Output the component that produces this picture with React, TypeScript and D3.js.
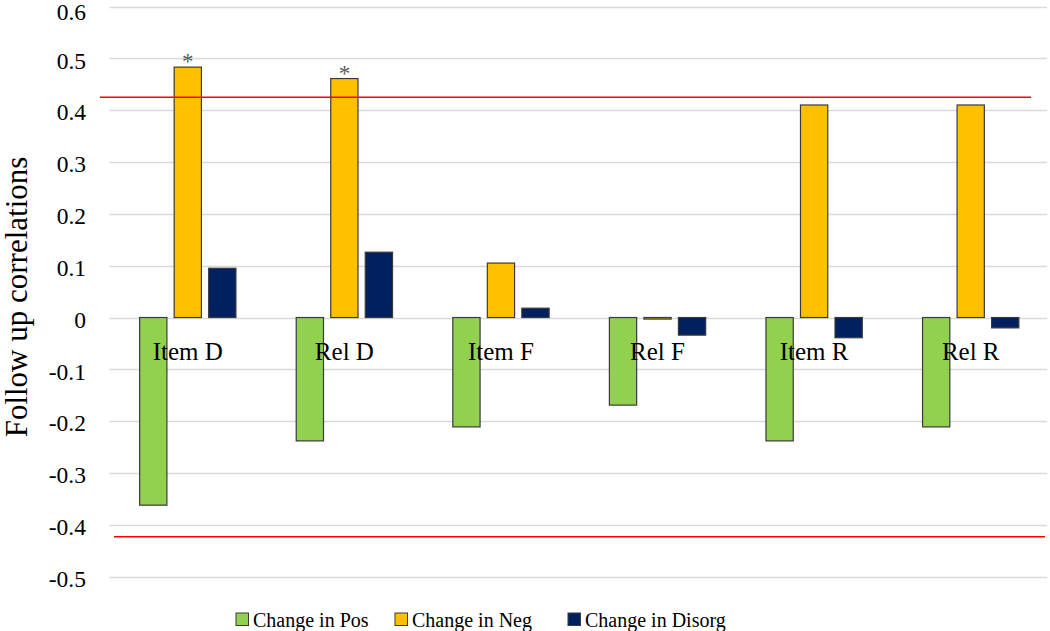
import React from "react";
import * as d3 from "d3";

const categories = ["Item D", "Rel D", "Item F", "Rel F", "Item R", "Rel R"];
const seriesNames = ["Change in Pos", "Change in Neg", "Change in Disorg"];
const changeInPos = [-0.362, -0.238, -0.211, -0.169, -0.238, -0.211];
const changeInNeg = [0.483, 0.461, 0.105, -0.003, 0.41, 0.41];
const changeInDisorg = [0.095, 0.126, 0.018, -0.034, -0.039, -0.02];
const significant = [true, true, false, false, false, false];
const yTicks = [0.6, 0.5, 0.4, 0.3, 0.2, 0.1, 0, -0.1, -0.2, -0.3, -0.4, -0.5];
const thresholdUpper = 0.425;
const thresholdLower = -0.423;
const colors = ["#92D050", "#FFC000", "#002060"];

const W = 1050;
const H = 631;
const FONT = "'Liberation Serif', 'Times New Roman', serif";

export default function App() {
  const seriesValues = [changeInPos, changeInNeg, changeInDisorg];
  const plotLeft = 109.5;
  const plotRight = 1049;
  const x0 = d3.scaleBand<string>().domain(categories).range([plotLeft, plotRight]).paddingInner(0).paddingOuter(0);
  const groupW = 96.3;
  const x1 = d3
    .scaleBand<string>()
    .domain(seriesNames)
    .range([-groupW / 2, groupW / 2])
    .paddingInner(0.21)
    .paddingOuter(0);
  const y = d3.scaleLinear().domain([-0.5, 0.6]).range([576.7, 6.5]);
  const fmt = (v: number) => (v === 0 ? "0" : v.toFixed(1));

  return (
    <svg
      width={W}
      height={H}
      style={{ position: "absolute", left: 0, top: 0, background: "#fff", fontFamily: FONT }}
    >
      <rect x={0} y={0} width={W} height={H} fill="#fff" />
      {/* gridlines */}
      {yTicks.map((t) => (
        <line
          key={"g" + t}
          x1={plotLeft}
          x2={1047}
          y1={Math.round(y(t)) + 0.5}
          y2={Math.round(y(t)) + 0.5}
          stroke="#d9d9d9"
          strokeWidth={1.3}
        />
      ))}
      {/* tick labels */}
      {yTicks.map((t) => (
        <text
          key={"t" + t}
          x={86}
          y={Math.max(y(t) + 2, 12)}
          dy="0.35em"
          textAnchor="end"
          fontSize={23.5}
          fontFamily={FONT}
          fill="#000"
        >
          {fmt(t)}
        </text>
      ))}
      {/* bars */}
      {categories.map((c, ci) => {
        const cx = (x0(c) as number) + x0.bandwidth() / 2;
        return (
          <g key={c}>
            {seriesNames.map((s, si) => {
              const v = seriesValues[si][ci];
              const bx = cx + (x1(s) as number);
              const top = Math.min(y(v), y(0));
              const h = Math.max(Math.abs(y(v) - y(0)), 0.5);
              return (
                <rect
                  key={s}
                  x={bx}
                  y={top}
                  width={x1.bandwidth()}
                  height={h}
                  fill={colors[si]}
                  stroke="#3a3a3a"
                  strokeWidth={1.2}
                />
              );
            })}
            {significant[ci] && (
              <text
                x={cx + (x1(seriesNames[1]) as number) + x1.bandwidth() / 2}
                y={y(changeInNeg[ci]) + 2}
                textAnchor="middle"
                fontSize={23}
                fontFamily={FONT}
                fill="#595959"
              >
                *
              </text>
            )}
          </g>
        );
      })}
      {/* category labels */}
      {categories.map((c) => (
        <text
          key={"c" + c}
          x={(x0(c) as number) + x0.bandwidth() / 2}
          y={360}
          textAnchor="middle"
          fontSize={25}
          fontFamily={FONT}
          fill="#000"
        >
          {c}
        </text>
      ))}
      {/* threshold lines */}
      <line x1={100} x2={1031} y1={y(thresholdUpper)} y2={y(thresholdUpper)} stroke="#FF0000" strokeWidth={1.5} />
      <line x1={114} x2={1045} y1={y(thresholdLower)} y2={y(thresholdLower)} stroke="#FF0000" strokeWidth={1.5} />
      {/* y-axis title */}
      <text
        transform={`translate(27, 297) rotate(-90)`}
        textAnchor="middle"
        fontSize={31}
        fontFamily={FONT}
        fill="#000"
      >
        Follow up correlations
      </text>
      {/* legend */}
      {seriesNames.map((s, i) => {
        const lx = [236, 395, 568][i];
        return (
          <g key={"l" + s}>
            <rect x={lx} y={613} width={12.5} height={12.5} fill={colors[i]} stroke="#3a3a3a" strokeWidth={1} />
            <text x={lx + 17} y={627} fontSize={20} fontFamily={FONT} fill="#000">
              {s}
            </text>
          </g>
        );
      })}
    </svg>
  );
}
